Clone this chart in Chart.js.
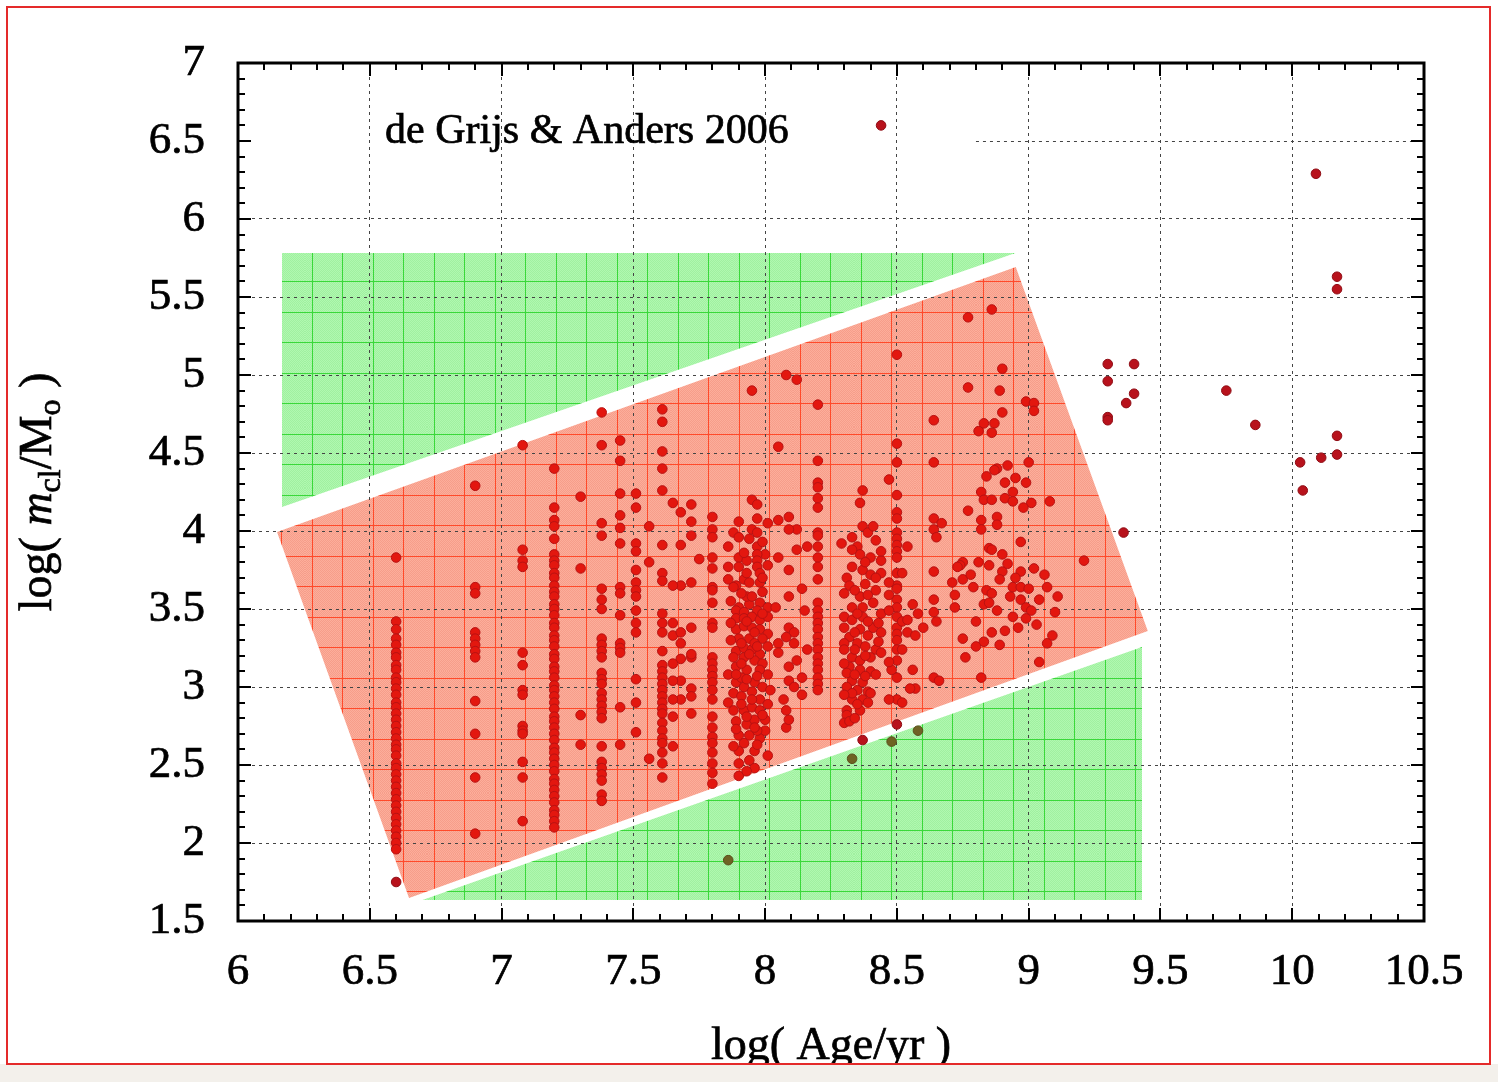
<!DOCTYPE html>
<html>
<head>
<meta charset="utf-8">
<title>Cluster mass vs age</title>
<script src="https://cdn.jsdelivr.net/npm/chart.js@4.4.1/dist/chart.umd.min.js"></script>
<style>
  html, body { margin: 0; padding: 0; background: #fff; }
  canvas { display: block; }
</style>
</head>
<body>
<canvas id="massAge" width="1498" height="1082"></canvas>
<script>
// axis ticks
const ageTicks = [6, 6.5, 7, 7.5, 8, 8.5, 9, 9.5, 10, 10.5];
const massTicks = [1.5, 2, 2.5, 3, 3.5, 4, 4.5, 5, 5.5, 6, 6.5, 7];

// clusters sitting on discrete age values: log(age) -> list of log(mass)
const ageColumns = [6.60, 6.90, 7.08, 7.20, 7.30, 7.38, 7.45, 7.51, 7.61, 7.80, 8.20, 8.50];
const massAt660 = [3.83, 3.42, 3.37, 3.31, 3.27, 3.22, 3.19, 3.14, 3.11, 3.06, 3.03, 2.99, 2.95, 2.90, 2.87, 2.83, 2.79, 2.75, 2.71,
  2.67, 2.63, 2.60, 2.56, 2.51, 2.48, 2.44, 2.40, 2.36, 2.32, 2.28, 2.24, 2.20, 2.16, 2.12, 2.08, 2.04, 2.00, 1.96];
const massAt690 = [4.29, 3.64, 3.60, 3.35, 3.31, 3.27, 3.23, 3.19, 2.91, 2.70, 2.42, 2.06];
const massAt708 = [4.55, 3.88, 3.81, 3.77, 3.22, 3.14, 2.98, 2.95, 2.75, 2.72, 2.70, 2.52, 2.42, 2.14];
const massAt720 = [4.40, 4.15, 4.07, 4.03, 3.95, 3.85, 3.81, 3.78, 3.73, 3.70, 3.65, 3.61, 3.58, 3.53, 3.50, 3.46, 3.41, 3.38,
  3.33, 3.30, 3.26, 3.21, 3.18, 3.13, 3.10, 3.06, 3.01, 2.98, 2.94, 2.90, 2.86, 2.81, 2.78, 2.74, 2.70, 2.66, 2.61, 2.58, 2.54,
  2.50, 2.46, 2.41, 2.38, 2.34, 2.30, 2.26, 2.21, 2.18, 2.14, 2.10];
const massAt730 = [4.22, 3.76, 2.82, 2.63];
const massAt738 = [4.76, 4.55, 4.05, 3.97, 3.63, 3.56, 3.50, 3.31, 3.27, 3.23, 3.19, 3.09, 3.05, 3.02, 2.96, 2.92, 2.88, 2.84,
  2.80, 2.62, 2.52, 2.48, 2.44, 2.40, 2.31, 2.27];
const massAt745 = [4.58, 4.45, 4.24, 4.10, 4.02, 3.92, 3.64, 3.60, 3.46, 3.28, 3.25, 3.22, 2.87, 2.63];
const massAt751 = [4.24, 4.15, 3.92, 3.87, 3.75, 3.67, 3.62, 3.58, 3.49, 3.41, 3.35, 3.05, 2.90, 2.71];
const massAt761 = [4.78, 4.70, 4.51, 4.40, 4.26, 3.91, 3.73, 3.68, 3.47, 3.41, 3.35, 3.23, 3.14, 3.10, 3.06, 3.02, 2.98, 2.94,
  2.90, 2.86, 2.83, 2.77, 2.72, 2.67, 2.64, 2.58, 2.51, 2.42];
const massAt780 = [4.09, 4.01, 3.96, 3.83, 3.76, 3.64, 3.62, 3.54, 3.41, 3.38, 3.19, 3.15, 3.11, 3.07, 3.03, 2.98, 2.92, 2.81,
  2.74, 2.68, 2.64, 2.58, 2.51, 2.45, 2.38];
const massAt820 = [4.81, 4.45, 4.31, 4.28, 4.21, 4.15, 3.99, 3.97, 3.90, 3.83, 3.77, 3.69, 3.54, 3.49, 3.45, 3.41, 3.37, 3.32,
  3.28, 3.24, 3.19, 3.15, 3.11, 3.06, 3.02, 2.98];
const massAt850 = [5.13, 4.56, 4.44, 4.23, 4.12, 4.08, 3.99, 3.95, 3.91, 3.87, 3.83, 3.73, 3.65, 3.63, 3.56, 3.51, 3.45, 3.38,
  3.34, 3.30, 3.24, 3.17, 3.06, 2.92];
const massColumns = [massAt660, massAt690, massAt708, massAt720, massAt730, massAt738, massAt745, massAt751,
  massAt761, massAt780, massAt820, massAt850];

// scattered clusters, [log age, log mass]
const spreadA = [[7.65, 4.18], [7.68, 4.12], [7.72, 4.17], [7.72, 4.06], [7.72, 3.97], [7.68, 3.91], [7.75, 3.82], [7.68, 3.65],
  [7.72, 3.67], [7.65, 3.41], [7.65, 3.33], [7.68, 3.35], [7.68, 3.28], [7.72, 3.38], [7.68, 3.18], [7.72, 3.19], [7.68, 3.04],
  [7.72, 2.99], [7.72, 2.94], [7.68, 2.92], [7.65, 2.81], [7.72, 2.83], [7.65, 2.62], [7.56, 4.03], [7.56, 3.80], [7.56, 2.54],
  [7.65, 3.65], [7.65, 3.04], [7.65, 2.92], [7.72, 3.21], [7.65, 3.15]];
const spreadB = [[7.95, 4.90], [7.95, 4.20], [7.97, 4.17], [7.90, 4.06], [7.97, 4.08], [8.01, 4.05], [7.88, 3.99], [7.90, 3.96],
  [7.95, 4.01], [7.97, 3.99], [7.86, 3.90], [7.97, 3.90], [8.00, 3.85], [7.97, 3.85], [7.90, 3.83], [7.93, 3.81], [7.97, 3.81],
  [7.86, 3.77], [7.90, 3.77], [7.97, 3.77], [8.01, 3.78], [7.86, 3.69], [7.89, 3.65], [7.92, 3.69], [7.94, 3.67], [7.98, 3.73],
  [7.98, 3.67], [7.88, 3.64], [7.99, 3.61], [7.98, 3.54], [7.94, 3.53], [7.90, 3.51], [7.89, 3.49], [7.92, 3.48], [7.97, 3.49],
  [8.01, 3.51], [7.89, 3.44], [7.92, 3.44], [7.95, 3.45], [7.98, 3.43], [8.01, 3.45], [7.89, 3.37], [7.92, 3.39], [7.95, 3.38],
  [7.98, 3.37], [8.01, 3.34], [7.90, 3.31], [7.94, 3.31], [7.99, 3.31], [8.01, 3.26], [7.89, 3.23], [7.92, 3.25], [7.95, 3.24],
  [7.98, 3.21], [7.92, 3.19], [7.96, 3.17], [7.99, 3.15], [7.89, 3.13], [7.93, 3.11], [7.98, 3.11], [8.01, 3.08], [7.89, 3.03],
  [7.92, 3.00], [7.96, 3.03], [7.99, 3.00], [7.88, 2.96], [7.91, 2.94], [7.95, 2.97], [7.98, 2.92], [8.02, 2.98], [7.88, 2.85],
  [7.92, 2.85], [7.95, 2.87], [7.98, 2.85], [8.01, 2.89], [7.89, 2.78], [7.93, 2.76], [7.96, 2.79], [8.00, 2.79], [7.90, 2.69],
  [7.94, 2.69], [7.98, 2.67], [8.00, 2.72], [7.90, 2.59], [7.96, 2.59], [7.94, 2.53], [7.90, 2.51], [7.96, 2.48], [7.90, 2.43],
  [8.01, 2.56], [7.86, 3.08], [7.86, 2.90], [7.87, 3.30], [7.93, 3.58], [7.96, 3.28], [7.91, 3.06], [7.97, 2.72],
  [7.87, 3.55], [7.91, 3.60], [7.95, 3.58], [7.99, 3.47], [7.87, 3.41], [7.93, 3.42], [7.96, 3.35], [7.91, 3.28], [7.97, 3.26],
  [7.88, 3.19], [7.94, 3.21], [7.91, 3.15], [7.97, 3.07], [7.93, 3.05], [7.89, 3.08], [7.95, 2.92], [7.91, 2.89], [7.99, 2.82],
  [7.93, 2.81], [7.89, 2.73], [7.96, 2.74], [7.92, 2.64], [7.97, 2.63], [7.88, 2.62], [7.93, 2.46], [7.99, 3.93], [7.92, 3.86],
  [7.94, 3.95], [7.99, 3.70], [7.93, 3.73]];
const spreadC = [[8.05, 4.07], [8.09, 4.09], [8.12, 4.01], [8.09, 4.01], [8.12, 3.88], [8.16, 3.90], [8.05, 3.83], [8.09, 3.75],
  [8.14, 3.63], [8.09, 3.58], [8.04, 3.51], [8.09, 3.38], [8.11, 3.35], [8.08, 3.32], [8.05, 3.28], [8.05, 3.22], [8.11, 3.28],
  [8.12, 3.17], [8.09, 3.13], [8.09, 3.04], [8.14, 3.06], [8.11, 3.00], [8.14, 2.95], [8.08, 2.74], [8.09, 2.79], [8.16, 3.24],
  [8.05, 4.54], [8.08, 5.00], [8.12, 4.97], [8.07, 2.92], [8.08, 2.85], [8.15, 3.49]];
const spreadD = [[8.29, 3.92], [8.33, 3.96], [8.35, 3.90], [8.37, 4.03], [8.39, 3.99], [8.42, 3.94], [8.36, 3.85], [8.40, 3.83],
  [8.44, 3.81], [8.33, 3.77], [8.37, 3.75], [8.40, 3.72], [8.44, 3.73], [8.31, 3.70], [8.32, 3.65], [8.47, 3.67], [8.36, 3.58],
  [8.39, 3.59], [8.33, 3.51], [8.37, 3.51], [8.41, 3.54], [8.44, 3.47], [8.30, 3.45], [8.33, 3.43], [8.37, 3.45], [8.41, 3.38],
  [8.36, 3.37], [8.32, 3.32], [8.30, 3.28], [8.35, 3.28], [8.38, 3.26], [8.42, 3.24], [8.33, 3.19], [8.36, 3.17], [8.40, 3.19],
  [8.44, 3.22], [8.32, 3.13], [8.36, 3.11], [8.40, 3.10], [8.33, 3.04], [8.37, 3.03], [8.31, 3.00], [8.35, 2.98], [8.39, 2.97],
  [8.33, 2.92], [8.37, 2.92], [8.31, 2.85], [8.36, 2.85], [8.47, 2.92], [8.48, 3.11], [8.47, 3.49], [8.47, 3.59], [8.37, 4.26],
  [8.36, 4.18], [8.41, 4.03], [8.47, 4.33], [8.30, 3.24], [8.31, 3.09], [8.31, 2.82], [8.30, 2.77], [8.33, 2.96], [8.40, 2.96],
  [8.47, 3.16], [8.33, 3.88], [8.30, 3.60], [8.30, 3.38], [8.30, 3.15], [8.30, 2.95], [8.44, 3.35], [8.42, 3.62],
  [8.34, 3.62], [8.38, 3.66], [8.42, 3.70], [8.35, 3.47], [8.39, 3.42], [8.43, 3.41], [8.34, 3.35], [8.39, 3.33], [8.43, 3.29],
  [8.34, 3.24], [8.38, 3.20], [8.34, 3.08], [8.38, 3.07], [8.42, 3.08], [8.35, 2.89], [8.39, 2.90], [8.32, 2.78], [8.34, 2.80],
  [8.44, 3.87], [8.38, 3.80]];
const spreadE = [[8.52, 3.73], [8.52, 3.42], [8.52, 3.24], [8.52, 2.90], [8.54, 3.43], [8.54, 3.35], [8.54, 3.90], [8.56, 3.53],
  [8.57, 3.33], [8.56, 3.11], [8.57, 2.99], [8.55, 2.99], [8.60, 3.38], [8.64, 4.71], [8.64, 4.44], [8.64, 4.08], [8.64, 4.01],
  [8.65, 3.96], [8.64, 3.74], [8.64, 3.56], [8.64, 3.48], [8.65, 3.42], [8.64, 3.06], [8.66, 3.04], [8.67, 4.05], [8.58, 3.47]];
const spreadF = [[8.86, 5.42], [8.77, 5.37], [8.90, 5.04], [8.77, 4.92], [8.89, 4.90], [8.99, 4.83], [9.02, 4.82], [9.02, 4.77],
  [8.90, 4.76], [8.83, 4.69], [8.87, 4.69], [8.81, 4.64], [8.86, 4.63], [9.00, 4.44], [8.88, 4.40], [8.84, 4.35], [8.95, 4.34],
  [8.91, 4.31], [8.99, 4.31], [8.82, 4.25], [8.94, 4.25], [8.83, 4.20], [8.86, 4.20], [8.91, 4.21], [8.94, 4.19], [9.01, 4.18],
  [9.08, 4.19], [8.98, 4.15], [8.77, 4.13], [8.82, 4.07], [8.88, 4.09], [8.87, 4.39], [8.82, 4.01], [8.88, 4.04], [8.97, 3.93],
  [8.85, 3.89], [8.86, 3.88], [8.90, 3.85], [8.85, 3.78], [8.75, 3.80], [8.74, 3.78], [8.90, 3.74], [8.97, 3.74], [9.02, 3.76],
  [9.06, 3.72], [8.71, 3.67], [8.75, 3.69], [8.79, 3.64], [8.84, 3.62], [8.86, 3.60], [8.89, 3.69], [8.94, 3.64], [8.97, 3.64],
  [9.00, 3.63], [9.07, 3.64], [9.11, 3.58], [8.97, 3.56], [8.99, 3.51], [9.01, 3.49], [9.10, 3.48], [8.83, 3.53], [8.85, 3.54],
  [8.94, 3.45], [8.96, 3.38], [8.99, 3.44], [9.09, 3.33], [9.07, 3.28], [8.89, 3.27], [8.83, 3.29], [8.80, 3.26], [8.75, 3.31],
  [8.76, 3.19], [9.04, 3.16], [8.82, 3.06], [8.72, 3.51], [8.72, 3.59], [8.73, 3.77], [9.21, 3.81],
  [8.78, 3.72], [8.81, 3.80], [8.92, 3.79], [8.95, 3.70], [8.93, 3.58], [9.04, 3.56], [8.88, 3.49], [8.80, 3.42], [8.91, 3.36],
  [9.03, 3.40], [8.86, 3.35], [8.92, 4.42]];

// clusters lying outside the shaded band
const outsideBand = [[8.44, 6.60], [10.09, 6.29], [10.17, 5.63], [10.17, 5.55], [9.30, 5.07], [9.40, 5.07], [9.30, 4.96],
  [9.40, 4.88], [9.37, 4.82], [9.30, 4.73], [9.30, 4.71], [9.75, 4.90], [9.86, 4.68], [10.17, 4.61], [10.17, 4.49],
  [10.11, 4.47], [10.03, 4.44], [10.04, 4.26], [9.36, 3.99], [6.60, 1.75], [8.37, 2.66], [8.50, 2.76]];
// clusters covered by the lower green area
const underMask = [[7.86, 1.89], [8.33, 2.54], [8.48, 2.65], [8.58, 2.72]];

// shaded areas, corners in [log age, log mass]
const upperGreen = [[6.167, 5.782], [8.95, 5.782], [6.167, 4.154]];
const redBand = [[6.148, 3.994], [8.951, 5.692], [9.452, 3.359], [6.649, 1.647]];
const lowerGreen = [[9.43, 3.256], [9.43, 1.635], [6.70, 1.635]];

const serif = 'Liberation Serif, Times New Roman, serif';
const toPoints = pairs => pairs.map(p => ({ x: p[0], y: p[1] }));
const closed = pairs => toPoints(pairs.concat([pairs[0]]));

let bandPoints = [];
ageColumns.forEach((age, i) => {
  bandPoints = bandPoints.concat(massColumns[i].map(m => ({ x: age, y: m })));
});
[spreadA, spreadB, spreadC, spreadD, spreadE, spreadF].forEach(s => {
  bandPoints = bandPoints.concat(toPoints(s));
});

// hatched fill: pale base, dither, thin grid lines
function makePattern(base, dot, line) {
  const c = document.createElement('canvas');
  c.width = 61; c.height = 61;
  const g = c.getContext('2d');
  g.fillStyle = base;
  g.fillRect(0, 0, 61, 61);
  g.fillStyle = dot;
  for (let y = 0; y < 61; y++) {
    for (let x = (y % 2); x < 61; x += 2) g.fillRect(x, y, 1, 1);
  }
  g.fillStyle = line;
  g.fillRect(7, 0, 1, 61);
  g.fillRect(37, 0, 1, 61);
  g.fillRect(0, 7, 61, 1);
  g.fillRect(0, 37, 61, 1);
  return g.createPattern(c, 'repeat');
}
const greenFill = makePattern('#b0f8b0', '#a0f0a0', '#3ad83a');
const redFill = makePattern('#fcae9b', '#f69d8a', '#ff4a2a');

const gridColor = '#444';

// text with a thin outline so it reads as heavy as the scanned labels
function heavyText(ctx, text, x, y) {
  ctx.fillText(text, x, y);
  ctx.strokeText(text, x, y);
}

const frameAndText = {
  id: 'frameAndText',
  beforeDatasetsDraw(chart) {
    chart.$gridDone = false;
  },
  // grid goes over the shaded areas but under the clusters
  beforeDatasetDraw(chart, args) {
    if (args.meta.type !== 'scatter' || chart.$gridDone) return;
    chart.$gridDone = true;
    const { x, y } = chart.scales;
    x.drawGrid(chart.chartArea);
    y.drawGrid(chart.chartArea);
    const ctx = chart.ctx;
    ctx.save();
    ctx.strokeStyle = gridColor;
    ctx.lineWidth = 1;
    ctx.setLineDash([3, 4]);
    const py = Math.round(y.getPixelForValue(6.5)) + 0.5;
    ctx.beginPath();
    ctx.moveTo(x.getPixelForValue(8.80), py);
    ctx.lineTo(chart.chartArea.right, py);
    ctx.stroke();
    ctx.restore();
  },
  afterDraw(chart) {
    const ctx = chart.ctx;
    const { x, y } = chart.scales;
    const a = chart.chartArea;
    ctx.save();

    // inward ticks on all four sides
    ctx.strokeStyle = '#000';
    ctx.lineWidth = 2;
    ctx.beginPath();
    const nx = Math.round((x.max - x.min) / 0.1);
    for (let i = 0; i <= nx; i++) {
      const px = Math.round(x.getPixelForValue(x.min + i * 0.1));
      const len = i % 5 === 0 ? 13 : 7;
      ctx.moveTo(px, a.bottom); ctx.lineTo(px, a.bottom - len);
      ctx.moveTo(px, a.top); ctx.lineTo(px, a.top + len);
    }
    const ny = Math.round((y.max - y.min) / 0.1);
    for (let i = 0; i <= ny; i++) {
      const py = Math.round(y.getPixelForValue(y.min + i * 0.1));
      const len = i % 5 === 0 ? 13 : 7;
      ctx.moveTo(a.left, py); ctx.lineTo(a.left + len, py);
      ctx.moveTo(a.right, py); ctx.lineTo(a.right - len, py);
    }
    ctx.stroke();
    ctx.lineWidth = 3;
    ctx.strokeRect(a.left, a.top, a.right - a.left, a.bottom - a.top);

    ctx.fillStyle = '#000';
    ctx.strokeStyle = '#000';
    ctx.lineWidth = 0.7;
    ctx.textBaseline = 'alphabetic';

    // reference label
    ctx.font = '42px ' + serif;
    ctx.textAlign = 'left';
    heavyText(ctx, 'de Grijs & Anders 2006', x.getPixelForValue(6.558), y.getPixelForValue(6.49));

    // x title
    ctx.font = '46px ' + serif;
    ctx.textAlign = 'center';
    heavyText(ctx, 'log( Age/yr )', (a.left + a.right) / 2, 1059);

    // y title with subscripts, rotated
    const parts = [
      { t: 'log( ', f: '46px ' + serif, dy: 0 },
      { t: 'm', f: 'italic 46px ' + serif, dy: 0 },
      { t: 'cl', f: '32px ' + serif, dy: 9 },
      { t: '/M', f: '46px ' + serif, dy: 0 },
      { t: 'o', f: '32px ' + serif, dy: 9 },
      { t: ' )', f: '46px ' + serif, dy: 0 }
    ];
    let total = 0;
    parts.forEach(p => { ctx.font = p.f; p.w = ctx.measureText(p.t).width; total += p.w; });
    ctx.translate(51, (a.top + a.bottom) / 2);
    ctx.rotate(-Math.PI / 2);
    ctx.textAlign = 'left';
    let cx = -total / 2;
    parts.forEach(p => {
      ctx.font = p.f;
      heavyText(ctx, p.t, cx, p.dy);
      cx += p.w;
    });
    ctx.restore();

    // page frame and bottom strip
    ctx.save();
    ctx.fillStyle = '#f3f0eb';
    ctx.fillRect(0, 1064, chart.width, chart.height - 1064);
    ctx.strokeStyle = '#e42a2a';
    ctx.lineWidth = 2;
    ctx.strokeRect(7, 7, 1483, 1057);
    ctx.restore();
  }
};

const edgeless = (edges) => (c) => (edges.includes(c.tick.value) ? 'rgba(0,0,0,0)' : gridColor);

const dot = { pointRadius: 4.8, pointBorderWidth: 1, order: 0 };

new Chart(document.getElementById('massAge'), {
  type: 'scatter',
  data: {
    datasets: [
      {
        type: 'line', data: closed(upperGreen), fill: 'shape', backgroundColor: greenFill,
        borderWidth: 0, pointRadius: 0, order: 2
      },
      {
        type: 'line', data: closed(lowerGreen), fill: 'shape', backgroundColor: greenFill,
        borderWidth: 0, pointRadius: 0, order: 2
      },
      {
        type: 'line', data: closed(redBand), fill: 'shape', backgroundColor: redFill,
        borderWidth: 0, pointRadius: 0, order: 2
      },
      Object.assign({ data: toPoints(underMask), backgroundColor: '#6f6224', borderColor: '#5a4f1c' }, dot),
      Object.assign({ data: toPoints(outsideBand), backgroundColor: '#b8121c', borderColor: '#8e0c14' }, dot),
      Object.assign({ data: bandPoints, backgroundColor: '#e3170f', borderColor: '#b81212' }, dot)
    ]
  },
  options: {
    responsive: false,
    animation: false,
    devicePixelRatio: 1,
    events: [],
    layout: { padding: { left: 0, top: 63, right: 74, bottom: 0 } },
    plugins: { legend: { display: false }, tooltip: { enabled: false } },
    scales: {
      x: {
        type: 'linear', min: 6, max: 10.5,
        afterBuildTicks: s => { s.ticks = ageTicks.map(v => ({ value: v })); },
        afterFit: s => { s.height = 161; },
        ticks: {
          color: '#000', padding: 24, maxRotation: 0, autoSkip: false,
          textStrokeColor: '#000', textStrokeWidth: 0.7,
          font: { family: serif, size: 45 },
          callback: v => String(v)
        },
        grid: { color: edgeless([6, 10.5]), lineWidth: 1, drawTicks: false },
        border: { display: false, dash: [3, 4] }
      },
      y: {
        type: 'linear', min: 1.5, max: 7,
        afterBuildTicks: s => { s.ticks = massTicks.map(v => ({ value: v })); },
        afterFit: s => { s.width = 238; },
        ticks: {
          color: '#000', padding: 33, autoSkip: false,
          textStrokeColor: '#000', textStrokeWidth: 0.7,
          font: { family: serif, size: 45 },
          callback: v => String(v)
        },
        grid: { color: edgeless([1.5, 6.5, 7]), lineWidth: 1, drawTicks: false },
        border: { display: false, dash: [3, 4] }
      }
    }
  },
  plugins: [frameAndText]
});
</script>
</body>
</html>
